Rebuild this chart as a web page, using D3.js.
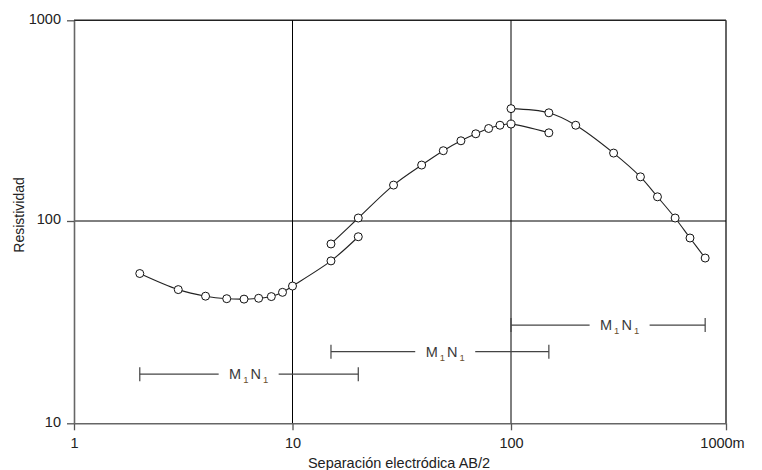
<!DOCTYPE html>
<html>
<head>
<meta charset="utf-8">
<script src="https://cdn.jsdelivr.net/npm/d3@7"></script>
<style>
  body { margin: 0; background: #fff; }
  text { font-family: Arial, "Liberation Sans", sans-serif; }
</style>
</head>
<body>
<div id="canvas"></div>
<script>
// sondeo electrico: AB/2 (m) vs resistividad aparente
const abA = [2, 3, 4, 5, 6, 7, 8, 9, 10, 15, 20];
const rhoA = [55, 45.8, 42.5, 41.3, 41.1, 41.5, 42.3, 44.4, 47.7, 63.5, 83.6];

const abB = [15, 20, 29, 39, 49, 59, 69, 79, 89, 100, 150];
const rhoB = [77, 103.5, 151, 190, 224, 251, 272, 289, 300, 304, 275];

const abC = [100, 150, 200, 300, 400, 480, 580, 680, 800];
const rhoC = [363, 346, 300, 218, 166, 132, 103.5, 82.4, 65.6];

// tramos M1N1
const mnFrom = [2, 15, 100];
const mnTo = [20, 150, 800];
const mnRho = [17.5, 22.6, 30.6];
const mnLabelAt = [6.3, 50, 320];

const xTicks = [1, 10, 100, 1000];
const yTicks = [10, 100, 1000];

const width = 762;
const height = 470;

const svg = d3.select("#canvas").append("svg")
    .attr("width", width)
    .attr("height", height);

const x = d3.scaleLog()
    .domain([1, 10, 100, 1000])
    .range([74, 292.5, 511, 726]);

const y = d3.scaleLog()
    .domain([10, 100, 1000])
    .range([423.3, 221, 20.3]);

// marco superior y derecho
svg.append("line")
    .attr("x1", x(1)).attr("x2", x(1000))
    .attr("y1", y(1000)).attr("y2", y(1000))
    .style("stroke", "#222").style("stroke-width", 1.5);
svg.append("line")
    .attr("x1", x(1000)).attr("x2", x(1000))
    .attr("y1", y(1000)).attr("y2", y(10))
    .style("stroke", "#333").style("stroke-width", 1.5);

// rejilla
svg.selectAll(".gx").data([10, 100]).enter().append("line")
    .attr("class", "gx")
    .attr("x1", d => x(d)).attr("x2", d => x(d))
    .attr("y1", y(1000)).attr("y2", y(10))
    .style("stroke", "#000").style("stroke-width", 1);
svg.selectAll(".gy").data([100]).enter().append("line")
    .attr("class", "gy")
    .attr("x1", x(1)).attr("x2", x(1000))
    .attr("y1", d => y(d)).attr("y2", d => y(d))
    .style("stroke", "#000").style("stroke-width", 1);

// ejes
const xAxis = svg.append("g")
    .attr("transform", `translate(0,${y(10)})`)
    .call(d3.axisBottom(x).tickValues(xTicks)
        .tickFormat(d => d === 1000 ? "1000m" : d)
        .tickSize(7).tickSizeOuter(0).tickPadding(7));

const yAxis = svg.append("g")
    .attr("transform", `translate(${x(1)},0)`)
    .call(d3.axisLeft(y).tickValues(yTicks)
        .tickFormat(d3.format("d"))
        .tickSize(7).tickSizeOuter(0).tickPadding(6));

[xAxis, yAxis].forEach(a => {
    a.select(".domain").style("stroke", "#666").style("stroke-width", 1.6);
    a.selectAll(".tick line").style("stroke", "#555").style("stroke-width", 1.3);
    a.selectAll(".tick text")
        .style("font-size", "14.5px")
        .style("fill", "#222");
});
xAxis.selectAll(".tick text").filter(d => d === 1000).attr("dx", -4);
yAxis.selectAll(".tick text").attr("dy", "0.2em");

svg.append("text")
    .attr("x", 399).attr("y", 468)
    .attr("text-anchor", "middle")
    .style("font-size", "14.5px").style("fill", "#222")
    .text("Separación electródica AB/2");

svg.append("text")
    .attr("transform", "translate(24,215) rotate(-90)")
    .attr("text-anchor", "middle")
    .style("font-size", "14px").style("fill", "#222")
    .text("Resistividad");

// tramos M1N1
const mn = mnFrom.map((d, i) => ({ from: d, to: mnTo[i], rho: mnRho[i], at: mnLabelAt[i] }));

const bars = svg.selectAll(".mn").data(mn).enter().append("g").attr("class", "mn");
bars.append("line")
    .attr("x1", d => x(d.from)).attr("x2", d => x(d.to))
    .attr("y1", d => y(d.rho)).attr("y2", d => y(d.rho))
    .style("stroke", "#444").style("stroke-width", 1.2);
bars.append("line")
    .attr("x1", d => x(d.from)).attr("x2", d => x(d.from))
    .attr("y1", d => y(d.rho) - 7).attr("y2", d => y(d.rho) + 7)
    .style("stroke", "#444").style("stroke-width", 1.2);
bars.append("line")
    .attr("x1", d => x(d.to)).attr("x2", d => x(d.to))
    .attr("y1", d => y(d.rho) - 7).attr("y2", d => y(d.rho) + 7)
    .style("stroke", "#444").style("stroke-width", 1.2);
bars.append("rect")
    .attr("x", d => x(d.at) - 30).attr("width", 60)
    .attr("y", d => y(d.rho) - 6).attr("height", 12)
    .style("fill", "#fff");

const lbl = bars.append("text")
    .attr("x", d => x(d.at)).attr("y", d => y(d.rho) + 5)
    .attr("text-anchor", "middle")
    .style("font-size", "14.5px").style("fill", "#3a3a3a");
lbl.append("tspan").text("M");
lbl.append("tspan").attr("dx", 2).attr("dy", 4).style("font-size", "9.5px").style("fill", "#6a5030").text("1");
lbl.append("tspan").attr("dx", 2).attr("dy", -4).text("N");
lbl.append("tspan").attr("dx", 2).attr("dy", 4).style("font-size", "9.5px").style("fill", "#6a5030").text("1");

// curvas
const line = d3.line()
    .x(d => x(d[0]))
    .y(d => y(d[1]))
    .curve(d3.curveCatmullRom.alpha(0.5));

const series = [
    d3.zip(abA, rhoA),
    d3.zip(abB, rhoB),
    d3.zip(abC, rhoC)
];

svg.selectAll(".curve").data(series).enter().append("path")
    .attr("class", "curve")
    .attr("d", line)
    .style("fill", "none")
    .style("stroke", "#222")
    .style("stroke-width", 1.1);

svg.selectAll(".pts").data(series).enter().append("g")
    .attr("class", "pts")
    .selectAll("circle").data(d => d).enter().append("circle")
    .attr("cx", d => x(d[0]))
    .attr("cy", d => y(d[1]))
    .attr("r", 4)
    .style("fill", "#fff")
    .style("stroke", "#111")
    .style("stroke-width", 1);
</script>
</body>
</html>
